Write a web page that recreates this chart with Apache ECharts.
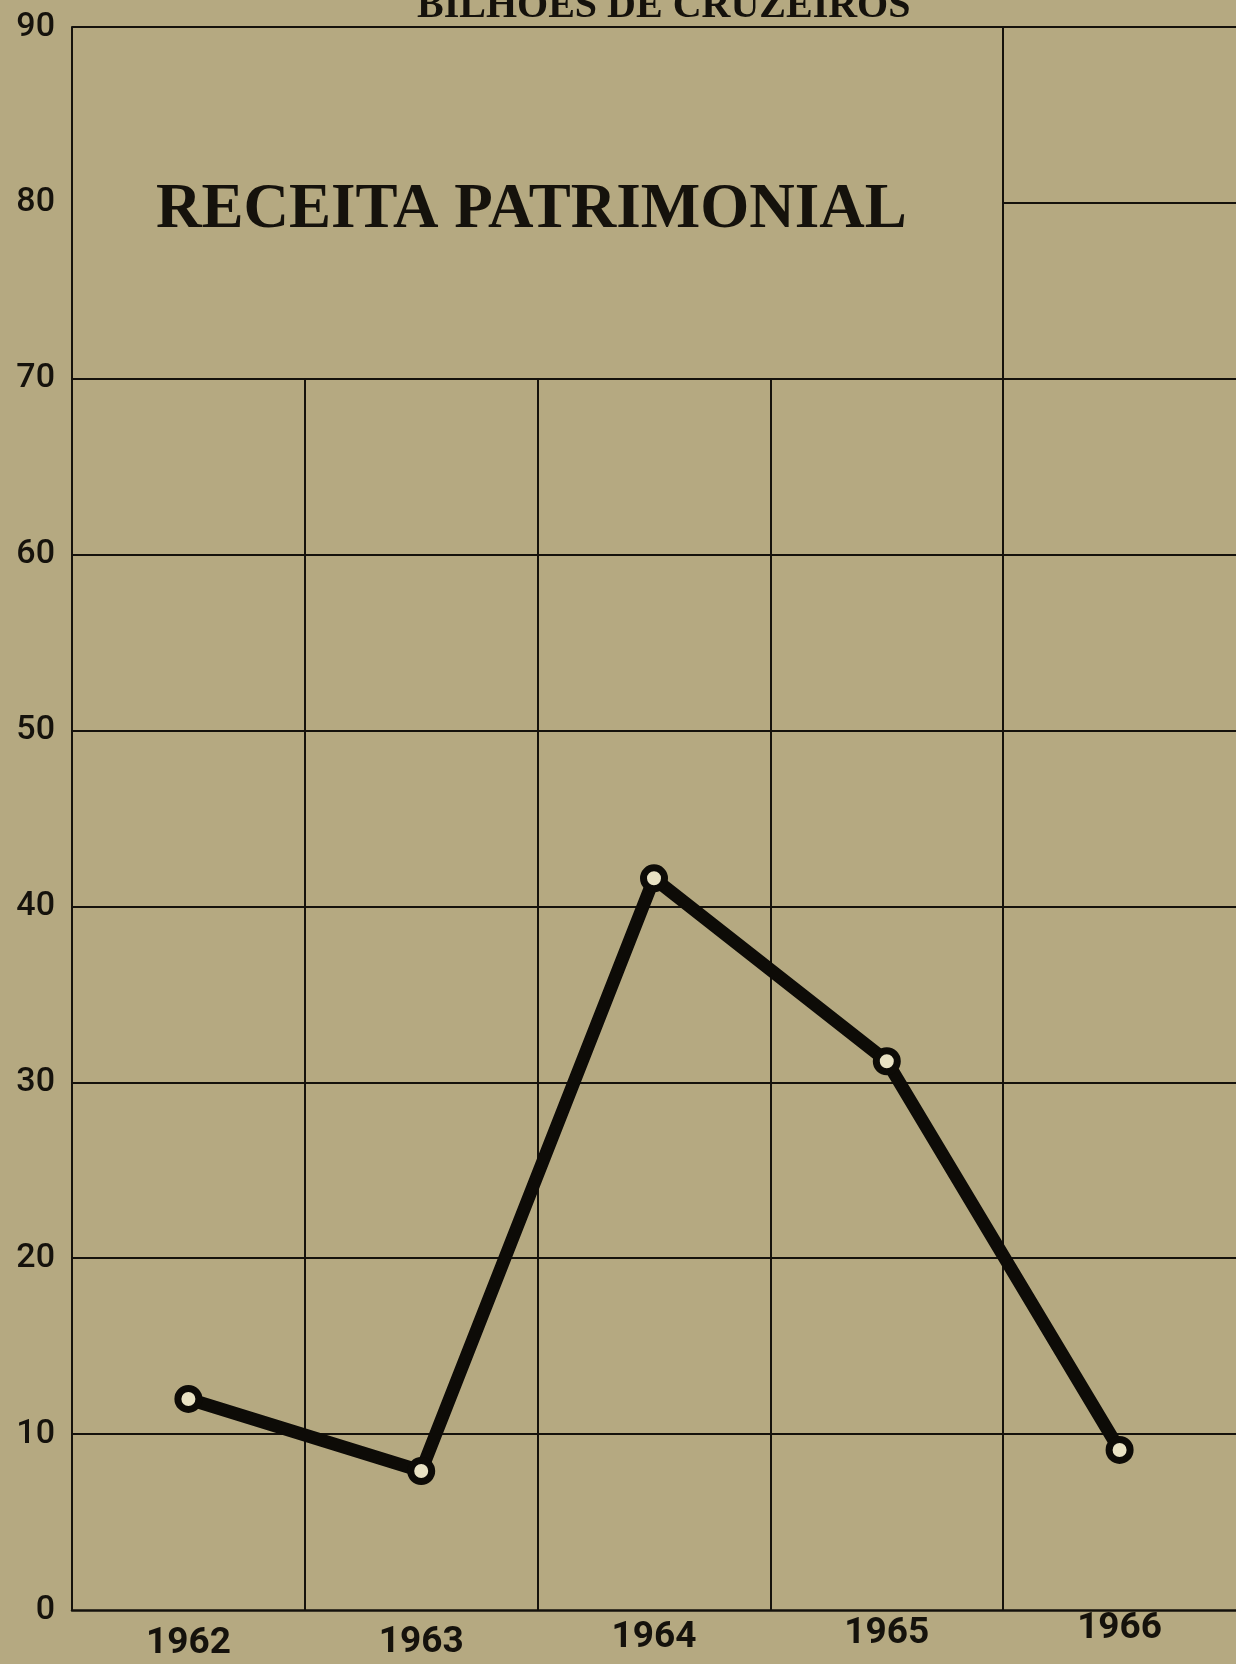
<!DOCTYPE html>
<html>
<head>
<meta charset="utf-8">
<script src="https://cdn.jsdelivr.net/npm/echarts@6/dist/echarts.min.js"></script>
<style>
html,body{margin:0;padding:0;background:#b5a981;}
#chart{width:1236px;height:1664px;}
</style>
</head>
<body>
<div id="chart"></div>
<script>
// ---- data ----
var years = ['1962', '1963', '1964', '1965', '1966'];
var receita = [12.0, 7.9, 41.6, 31.2, 9.1];
var yMin = 0, yMax = 90, yStep = 10;
var titleText = 'RECEITA PATRIMONIAL';
var unitText = 'BILHÕES DE CRUZEIROS';
// grid structure (in data units)
var fullHLines = [10, 20, 30, 40, 50, 60, 70, 90];
var partialHLines = [80];          // only in the last column
var shortVLines = [1, 2, 3];       // from 0 to 70
var tallVLines = [4];              // from 0 to 90
// per-label extra drop of year labels (scan tilt)
var yearDrop = [15, 14, 9, 5, 0];

var ink = '#15120c';
var segs = [];
fullHLines.forEach(function (v) { segs.push([{coord: [0, v]}, {coord: [5, v]}]); });
partialHLines.forEach(function (v) { segs.push([{coord: [4, v]}, {coord: [5, v]}]); });
shortVLines.forEach(function (c) { segs.push([{coord: [c, 0]}, {coord: [c, 70]}]); });
tallVLines.forEach(function (c) { segs.push([{coord: [c, 0]}, {coord: [c, 90]}]); });

var rich = {};
yearDrop.forEach(function (d, i) {
  rich['c' + i] = {padding: [d, 0, 0, 0], fontFamily: 'Roboto', fontWeight: 'bold', fontSize: 37, color: ink};
});

var chart = echarts.init(document.getElementById('chart'), null, {renderer: 'canvas'});
chart.setOption({
  animation: false,
  backgroundColor: '#b5a981',
  grid: {left: 72, right: -9, top: 27, bottom: 54, containLabel: false},
  graphic: [
    {type: 'text', left: 417, top: -13, z: 10,
      style: {text: unitText, font: 'bold 40px "Liberation Serif"', fill: ink}},
    {type: 'text', left: 156, top: 179, z: 10,
      style: {text: titleText, font: 'bold 63px "Liberation Serif"', fill: ink}}
  ],
  xAxis: [
    {type: 'category', data: years, boundaryGap: true,
      axisLine: {show: true, lineStyle: {color: ink, width: 2.5}},
      axisTick: {show: false}, splitLine: {show: false},
      axisLabel: {margin: 0, fontFamily: 'Roboto', fontWeight: 'bold', fontSize: 37, color: ink,
        formatter: function (v, i) { return '{c' + i + '|' + v + '}'; }, rich: rich}},
    {type: 'value', min: 0, max: 5, show: false}
  ],
  yAxis: {type: 'value', min: yMin, max: yMax, interval: yStep,
    axisLine: {show: true, lineStyle: {color: ink, width: 2}},
    axisTick: {show: false}, splitLine: {show: false},
    axisLabel: {margin: 17, fontFamily: 'Roboto', fontWeight: 500, fontSize: 34, color: ink}},
  series: [
    {type: 'line', xAxisIndex: 1, yAxisIndex: 0, z: 1, data: [[0, 0]], showSymbol: false,
      lineStyle: {width: 0}, silent: true,
      markLine: {silent: true, symbol: ['none', 'none'], label: {show: false},
        lineStyle: {color: ink, width: 2, type: 'solid'}, data: segs}},
    {type: 'line', xAxisIndex: 0, yAxisIndex: 0, z: 5, data: receita,
      symbol: 'circle', symbolSize: 21, showSymbol: true,
      lineStyle: {color: '#0d0b07', width: 13},
      itemStyle: {color: '#e9e2c4', borderColor: '#0d0b07', borderWidth: 7}}
  ]
});
</script>
</body>
</html>
